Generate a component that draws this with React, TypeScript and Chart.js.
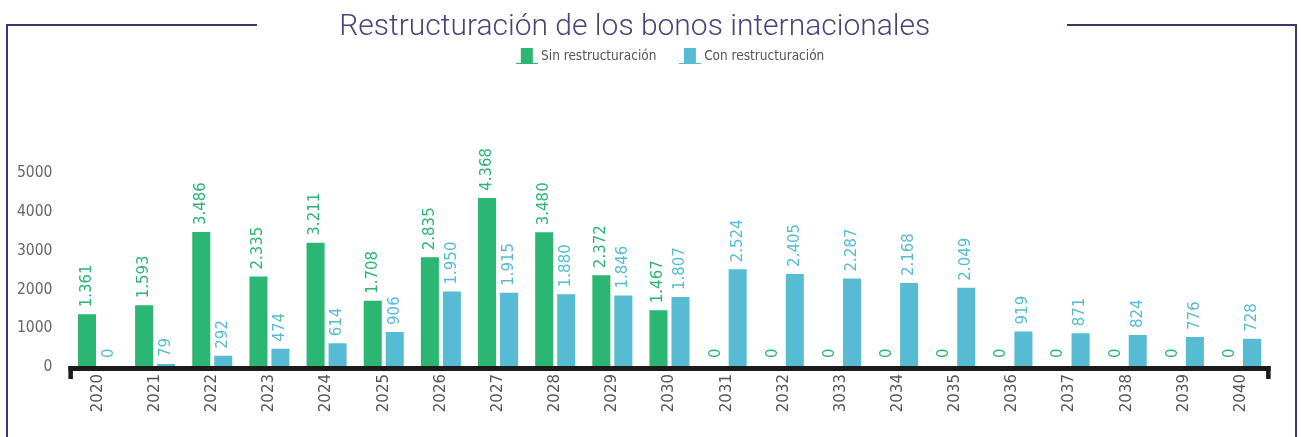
import React, { useEffect, useRef } from "react";
import { Chart, registerables } from "chart.js";

Chart.register(...registerables);

const years = ["2020", "2021", "2022", "2023", "2024", "2025", "2026", "2027", "2028", "2029", "2030", "2031", "2032", "3033", "2034", "2035", "2036", "2037", "2038", "2039", "2040"];
const sinRestructuracion = [1361, 1593, 3486, 2335, 3211, 1708, 2835, 4368, 3480, 2372, 1467, 0, 0, 0, 0, 0, 0, 0, 0, 0, 0];
const conRestructuracion = [0, 79, 292, 474, 614, 906, 1950, 1915, 1880, 1846, 1807, 2524, 2405, 2287, 2168, 2049, 919, 871, 824, 776, 728];
const yTicksShown = [0, 1000, 2000, 3000, 4000, 5000];

const GREEN = "#2bb673";
const TEAL = "#57bcd3";
const FRAME = "#3a3670";
const TITLE = "#4b437c";
const NARROW = '"Liberation Sans Narrow", "DejaVu Sans Condensed", "Liberation Sans", sans-serif';
const WIDE = '"DejaVu Sans", sans-serif';

const fmt = (v: number) => String(v).replace(/\B(?=(\d{3})+(?!\d))/g, ".");

function legendImg(color: string) {
  const c = document.createElement("canvas");
  c.width = 22;
  c.height = 16;
  const g = c.getContext("2d")!;
  g.fillStyle = color;
  g.fillRect(5, 0, 12, 15);
  g.fillRect(0, 15, 22, 1);
  return c;
}

const legendShift = {
  id: "legendShift",
  afterLayout(chart: any) {
    const lg = chart.legend;
    if (lg) {
      lg.left += 37;
      lg.right += 37;
    }
  },
};

const framePlugin = {
  id: "frame",
  afterDraw(chart: any) {
    const ctx = chart.ctx;
    ctx.save();
    ctx.strokeStyle = FRAME;
    ctx.lineWidth = 2;
    ctx.beginPath();
    ctx.moveTo(257, 25);
    ctx.lineTo(7, 25);
    ctx.lineTo(7, 437);
    ctx.moveTo(1067, 25);
    ctx.lineTo(1296, 25);
    ctx.lineTo(1296, 437);
    ctx.stroke();
    ctx.restore();
  },
};

const axisPlugin = {
  id: "axisBracket",
  afterDatasetsDraw(chart: any) {
    const ctx = chart.ctx;
    const { left, right, bottom } = chart.chartArea;
    ctx.save();
    ctx.fillStyle = "#1b1b1b";
    ctx.fillRect(left - 1, bottom - 1, right - left + 2, 5);
    ctx.fillRect(left - 1, bottom - 1, 4.5, 13);
    ctx.fillRect(right - 3.5, bottom - 1, 4.5, 13);
    ctx.restore();
  },
};

const labelPlugin = {
  id: "vlabels",
  afterDatasetsDraw(chart: any) {
    const ctx = chart.ctx;
    const base = chart.chartArea.bottom - 2;
    chart.data.datasets.forEach((ds: any, di: number) => {
      const meta = chart.getDatasetMeta(di);
      meta.data.forEach((el: any, i: number) => {
        const v = ds.data[i];
        const y = Math.min(el.y, base) - 7;
        ctx.save();
        ctx.translate(el.x, y);
        ctx.rotate(-Math.PI / 2);
        ctx.font = "15px " + WIDE;
        ctx.fillStyle = ds.backgroundColor;
        ctx.textAlign = "left";
        ctx.textBaseline = "middle";
        ctx.fillText(fmt(v), 0, 0);
        ctx.restore();
      });
    });
  },
};

export default function App() {
  const ref = useRef<HTMLCanvasElement>(null);

  useEffect(() => {
    const imgs = [legendImg(GREEN), legendImg(TEAL)];
    const chart = new Chart(ref.current!, {
      type: "bar",
      data: {
        labels: years,
        datasets: [
          { label: "Sin restructuración", data: sinRestructuracion, backgroundColor: GREEN, categoryPercentage: 0.77, barPercentage: 0.82 },
          { label: "Con restructuración", data: conRestructuracion, backgroundColor: TEAL, categoryPercentage: 0.77, barPercentage: 0.82 },
        ],
      },
      options: {
        responsive: false,
        animation: false,
        layout: { padding: { top: 0, left: 0, right: 31.4, bottom: 0 } },
        plugins: {
          title: {
            display: true,
            text: "Restructuración de los bonos internacionales",
            color: TITLE,
            font: { family: '"Roboto", "Liberation Sans", sans-serif', size: 30, weight: "300" as any },
            padding: { top: 9, bottom: -21.75 },
          },
          legend: {
            labels: {
              usePointStyle: true,
              pointStyleWidth: 15,
              padding: 26,
              color: "#555",
              font: { family: NARROW, size: 13.5 },
              generateLabels: (c: any) =>
                (Chart.defaults.plugins.legend.labels as any).generateLabels(c).map((l: any, i: number) => ({
                  ...l,
                  pointStyle: imgs[i],
                })),
            },
          },
          tooltip: { enabled: false },
        },
        scales: {
          x: {
            grid: { display: false, drawTicks: false },
            border: { display: false },
            ticks: {
              autoSkip: false,
              minRotation: 90,
              maxRotation: 90,
              padding: 7,
              color: "#555",
              font: { family: WIDE, size: 15 },
            },
            afterFit: (s: any) => {
              s.height = 70;
            },
          },
          y: {
            min: 0,
            max: 7600,
            grid: { display: false, drawTicks: false },
            border: { display: false },
            ticks: {
              autoSkip: false,
              padding: 17,
              color: "#666",
              font: { family: NARROW, size: 15.5 },
              callback: (v: any) => String(v),
            },
            afterBuildTicks: (s: any) => {
              s.ticks = yTicksShown.map((v) => ({ value: v }));
            },
            afterFit: (s: any) => {
              s.width = 69.4;
            },
          },
        },
      },
      plugins: [legendShift, axisPlugin, labelPlugin, framePlugin],
    });
    return () => chart.destroy();
  }, []);

  return (
    <div style={{ position: "absolute", left: 0, top: 0, width: 1301, height: 437, background: "#fff" }}>
      <canvas ref={ref} width={1301} height={437} style={{ display: "block" }} />
    </div>
  );
}
